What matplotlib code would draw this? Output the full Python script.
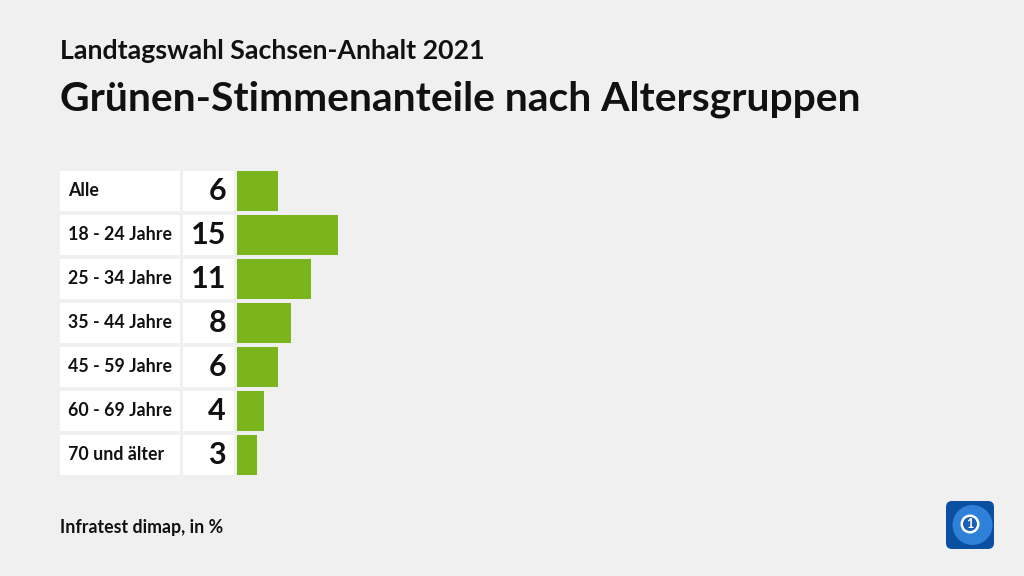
import numpy as np
import matplotlib.pyplot as plt
from matplotlib.patches import FancyBboxPatch, Circle

plt.rcParams['font.family'] = ['Lato', 'DejaVu Sans']

groups = ['Alle', '18 - 24 Jahre', '25 - 34 Jahre', '35 - 44 Jahre',
          '45 - 59 Jahre', '60 - 69 Jahre', '70 und älter']
values = [6, 15, 11, 8, 6, 4, 3]

bg = '#f0f0f0'
green = '#7ab51d'
px = 6.75  # pixels per percent

fig = plt.figure(figsize=(10.24, 5.76), dpi=100)
fig.patch.set_facecolor(bg)

# axes spanning full width, rows from y=169 to y=477 px
ax = fig.add_axes([0, 1 - 477 / 576, 1, (477 - 169) / 576])
ax.set_facecolor(bg)
ax.set_xlim(-237 / px, (1024 - 237) / px)
ax.set_ylim(len(groups) - 0.5, -0.5)
ax.axis('off')

y = np.arange(len(groups))
h = 40 / 44
# label boxes and value boxes
ax.barh(y, (180 - 60) / px, left=(60 - 237) / px, height=h, color='white')
ax.barh(y, (234 - 183) / px, left=(183 - 237) / px, height=h, color='white')
ax.barh(y, values, left=0, height=h, color=green)

for i, (g, v) in enumerate(zip(groups, values)):
    ax.text((68 - 237) / px, i, g, ha='left', va='center', fontsize=12.8,
            fontweight='bold', color='#111111')
    ax.text((226 - 237) / px, i, str(v), ha='right', va='center', fontsize=22,
            fontweight='bold', color='#111111')

fig.text(60 / 1024, 1 - 51 / 576, 'Landtagswahl Sachsen-Anhalt 2021', ha='left',
         va='center', fontsize=19.3, fontweight='bold', color='#111111')
fig.text(60 / 1024, 1 - 99 / 576, 'Grünen-Stimmenanteile nach Altersgruppen',
         ha='left', va='center', fontsize=29.4, fontweight='bold', color='#111111')
fig.text(60 / 1024, 1 - 528 / 576, 'Infratest dimap, in %', ha='left',
         va='center', fontsize=12.8, fontweight='bold', color='#111111')

# logo
lax = fig.add_axes([945 / 1024, 1 - 550 / 576, 50 / 1024, 50 / 576])
lax.set_xlim(0, 1)
lax.set_ylim(0, 1)
lax.axis('off')
lax.add_patch(FancyBboxPatch((0.02, 0.02), 0.96, 0.96,
                             boxstyle='round,pad=0,rounding_size=0.12',
                             facecolor='#0a4fa0', edgecolor='none'))
lax.add_patch(Circle((0.55, 0.5), 0.4, facecolor='#2f80d8', edgecolor='none'))
lax.add_patch(Circle((0.5, 0.52), 0.19, facecolor='white', edgecolor='none'))
lax.add_patch(Circle((0.5, 0.52), 0.14, facecolor='#1c5fb3', edgecolor='none'))
lax.text(0.5, 0.51, '1', ha='center', va='center', fontsize=9,
         fontweight='bold', color='white')

fig.savefig('out.png', dpi=100, facecolor=bg)
